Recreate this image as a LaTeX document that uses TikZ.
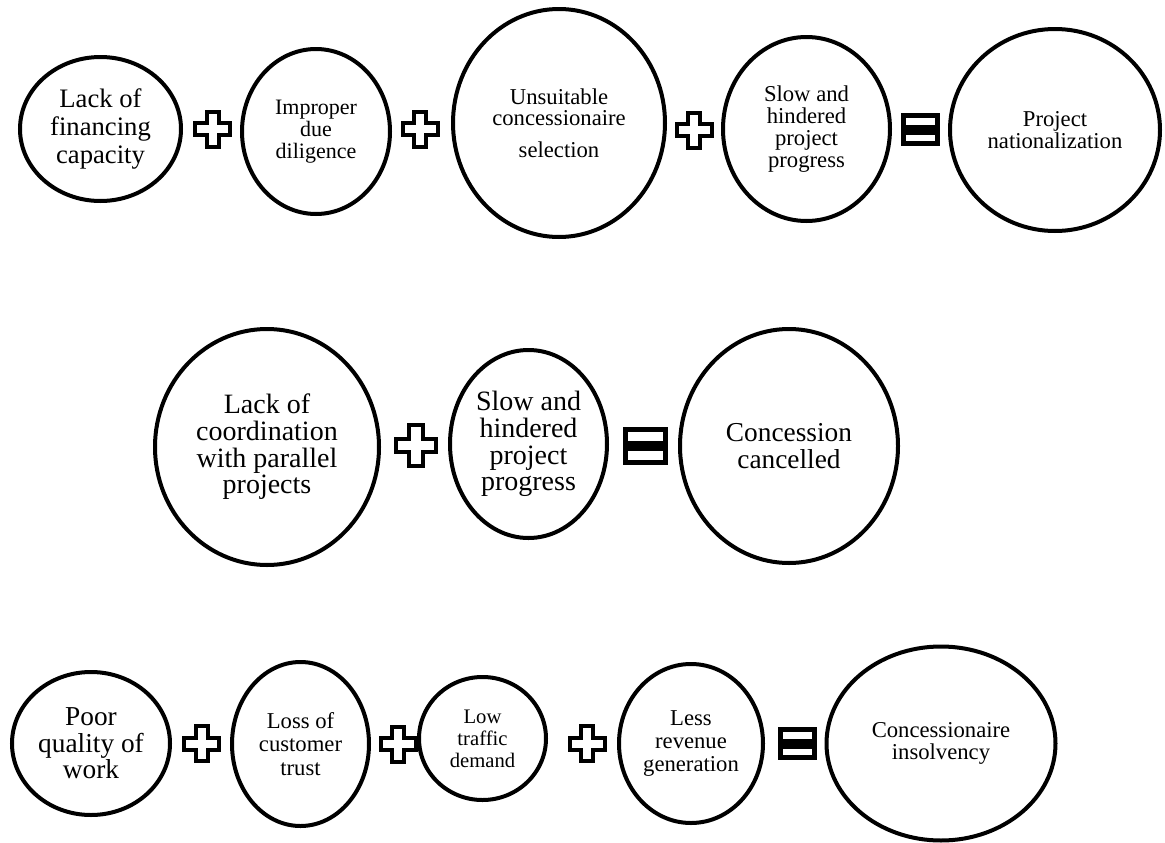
\documentclass[tikz,border=0pt]{standalone}
\usepackage{fontspec}
\setmainfont{Liberation Serif}
\usetikzlibrary{shapes.geometric}
\tikzset{
  ell/.style 2 args={ellipse, draw=black, line width=3pt, inner sep=0pt, align=center,
    minimum width=#1*0.75pt-3pt, minimum height=#2*0.75pt-3pt},
  fs/.style 2 args={font=\fontsize{#1}{#2}\selectfont},
  plussign/.pic={
    \draw[line width=3pt, fill=white]
      (-6,-17.5) -- (6,-17.5) -- (6,-6) -- (17.5,-6) -- (17.5,6) -- (6,6) -- (6,17.5)
      -- (-6,17.5) -- (-6,6) -- (-17.5,6) -- (-17.5,-6) -- (-6,-6) -- cycle;
  },
  equalsign/.pic={
    \draw[line width=3.75pt, fill=white] (-17,-14) rectangle (17,-2.5);
    \draw[line width=3.75pt, fill=white] (-17,2.5) rectangle (17,14);
  }
}
\begin{document}
\begin{tikzpicture}[x=0.75pt, y=-0.75pt]
\useasboundingbox (0,0) rectangle (1165,843);
% Row 1
\node[ell={165}{148}, fs={20}{21}] (e1) at (100.5,129) {Lack of\\financing\\capacity};
\pic (p1) at (212.5,129) {plussign};
\node[ell={152}{169}, fs={16.5}{16.5}] (e2) at (316,131.5) {Improper\\due\\diligence};
\pic (p2) at (420,129) {plussign};
\node[ell={216}{232}, fs={17}{15.75}] (e3) at (559,123) {Unsuitable\\concessionaire\\[8pt]selection};
\pic (p3) at (694,130) {plussign};
\node[ell={171}{188}, fs={17}{16.5}] (e4) at (806.5,129) {Slow and\\hindered\\project\\progress};
\pic (q1) at (920.5,129.5) {equalsign};
\node[ell={214}{206}, fs={17}{16.5}] (e5) at (1055,130) {Project\\nationalization};
% Row 2
\node[ell={228}{240}, fs={21}{20}] (a) at (267,447) {Lack of\\coordination\\with parallel\\projects};
\pic[scale=1.15] (p4) at (416,445.5) {plussign};
\node[ell={161}{192}, fs={21}{20}] (b) at (528.5,444) {Slow and\\hindered\\project\\progress};
\pic[scale=1.15] (q2) at (645.5,446) {equalsign};
\node[ell={222}{238}, fs={20.5}{20}] (c) at (789,446) {Concession\\cancelled};
% Row 3
\node[ell={162}{147}, fs={20.5}{20}] (p) at (91,743.5) {Poor\\quality of\\work};
\pic (p5) at (201.5,743.5) {plussign};
\node[ell={141}{168}, fs={17}{17.5}] (q) at (300.5,744) {Loss of\\customer\\trust};
\pic (p6) at (398,744) {plussign};
\node[ell={131}{127}, fs={15.5}{16.5}] (r) at (482.5,738.5) {Low\\traffic\\demand};
\pic (p7) at (587,743.5) {plussign};
\node[ell={148}{163}, fs={17}{17}] (s) at (691,743.5) {Less\\revenue\\generation};
\pic (q3) at (797,743.5) {equalsign};
\node[ell={233}{198}, fs={17}{17}] (t) at (941,743.5) {Concessionaire\\insolvency};
\end{tikzpicture}
\end{document}
